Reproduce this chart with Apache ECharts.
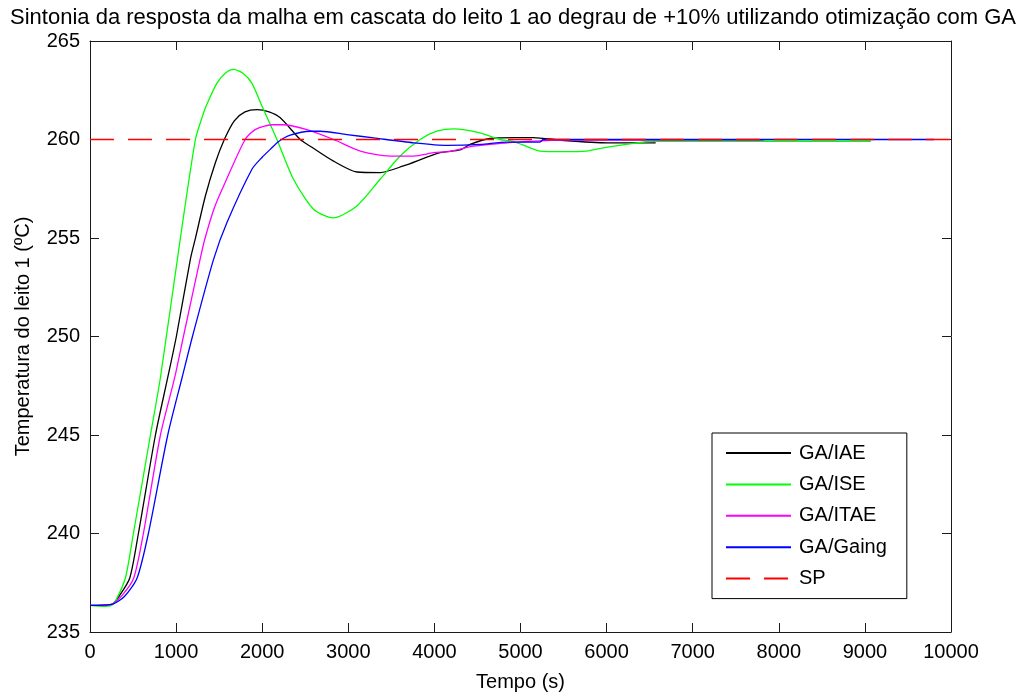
<!DOCTYPE html>
<html>
<head>
<meta charset="utf-8">
<script src="https://cdn.jsdelivr.net/npm/echarts@6/dist/echarts.min.js"></script>
<style>
  body { margin: 0; background: #fff; }
  #myChart { width: 1026px; height: 697px; }
</style>
</head>
<body>
<div id="myChart"></div>
<script>
// dados (tempo em s, temperatura em ºC)
var iaeT = [0, 250, 350, 462, 562, 760, 903, 1003, 1166, 1224, 1340, 1456, 1560, 1676, 1800, 1940, 2080, 2210, 2442, 2558, 2829, 3100, 3370, 3640, 4066, 4298, 4414, 4646, 4936, 5145, 5500, 6010, 6280, 6430, 6570];
var iaeY = [236.35, 236.4, 236.9, 237.74, 240, 245, 247.92, 250, 253.93, 254.98, 257.13, 258.82, 260, 260.95, 261.4, 261.52, 261.4, 261.1, 260, 259.66, 258.9, 258.35, 258.32, 258.66, 259.33, 259.47, 259.75, 260.05, 260.1, 260.1, 259.95, 259.83, 259.83, 259.83, 259.83];

var iseT = [0, 150, 250, 300, 411, 504, 702, 818, 1050, 1224, 1300, 1349, 1473, 1580, 1668, 1780, 1881, 1997, 2171, 2364, 2596, 2822, 3100, 3370, 3602, 3834, 4028, 4225, 4530, 4762, 4914, 5110, 5226, 5500, 5768, 5960, 6270, 6540, 7000, 8000, 9070];
var iseY = [236.35, 236.3, 236.35, 236.6, 237.74, 240, 245, 247.92, 255, 260, 261.1, 261.7, 262.85, 263.4, 263.56, 263.35, 262.85, 261.7, 260, 257.98, 256.46, 256.02, 256.63, 257.98, 259.16, 260, 260.42, 260.54, 260.34, 260, 259.91, 259.58, 259.41, 259.38, 259.41, 259.58, 259.78, 259.91, 259.91, 259.91, 259.91];

var itaeT = [0, 250, 380, 508, 620, 818, 984, 1085, 1279, 1337, 1450, 1570, 1802, 1919, 2116, 2244, 2519, 2829, 3140, 3488, 3760, 3992, 4182, 4454, 4646, 5000, 5500, 6500, 7826];
var itaeY = [236.35, 236.4, 236.9, 237.74, 240, 245, 247.92, 250, 253.93, 255, 256.6, 257.82, 260, 260.5, 260.75, 260.75, 260.5, 260, 259.41, 259.16, 259.16, 259.33, 259.4, 259.66, 259.75, 259.88, 259.97, 259.97, 259.97];

var gaingT = [0, 250, 400, 547, 678, 903, 1070, 1190, 1436, 1592, 1881, 2000, 2094, 2191, 2326, 2558, 2674, 2984, 3295, 3760, 4147, 4535, 4840, 5226, 5266, 6000, 8000, 9800];
var gaingY = [236.35, 236.4, 236.8, 237.74, 240, 245, 247.92, 250, 253.93, 255.8, 258.49, 259.1, 259.5, 259.9, 260.22, 260.42, 260.42, 260.25, 260.08, 259.83, 259.7, 259.75, 259.87, 259.87, 260, 260, 260, 260];

var spT = [0, 10000];
var spY = [260, 260];

var xTicks = [0, 1000, 2000, 3000, 4000, 5000, 6000, 7000, 8000, 9000, 10000];
var yTicks = [235, 240, 245, 250, 255, 260, 265];

function pares(t, y) {
  return t.map(function (v, i) { return [v, y[i]]; });
}

var fonte = "'Liberation Sans', Arial, sans-serif";
var corEixo = '#1a1a1a';

var myChart = echarts.init(document.getElementById('myChart'));

function eixo(pos, mostraRotulo) {
  return {
    position: pos,
    axisLine: { show: true, onZero: false, lineStyle: { color: corEixo, width: 1 } },
    axisTick: { show: true, inside: true, length: 9, lineStyle: { color: corEixo } },
    axisLabel: {
      show: mostraRotulo, color: '#000', fontSize: 20, fontFamily: fonte, margin: 10,
      formatter: function (v) { return String(v); }
    },
    splitLine: { show: false }
  };
}

var xBottom = Object.assign(eixo('bottom', true), {
  type: 'value', min: xTicks[0], max: xTicks[xTicks.length - 1], interval: 1000,
  name: 'Tempo (s)', nameLocation: 'middle', nameGap: 40,
  nameTextStyle: { color: '#000', fontSize: 20, fontFamily: fonte }
});
var xTop = Object.assign(eixo('top', false), {
  type: 'value', min: xTicks[0], max: xTicks[xTicks.length - 1], interval: 1000
});
var yLeft = Object.assign(eixo('left', true), {
  type: 'value', min: yTicks[0], max: yTicks[yTicks.length - 1], interval: 5,
  name: 'Temperatura do leito 1 (ºC)', nameLocation: 'middle', nameGap: 57,
  nameTextStyle: { color: '#000', fontSize: 20, fontFamily: fonte }
});
var yRight = Object.assign(eixo('right', false), {
  type: 'value', min: yTicks[0], max: yTicks[yTicks.length - 1], interval: 5
});

function serie(nome, t, y, cor, tipo) {
  return {
    name: nome,
    type: 'line',
    data: pares(t, y),
    symbol: 'none',
    smooth: 0.25,
    animation: false,
    lineStyle: { color: cor, width: 1.3, type: tipo || 'solid' },
    itemStyle: { color: cor }
  };
}

myChart.setOption({
  backgroundColor: '#fff',
  title: {
    text: 'Sintonia da resposta da malha em cascata do leito 1 ao degrau de +10% utilizando otimização com GA',
    left: 'center',
    top: 2,
    textStyle: { color: '#000', fontSize: 22, fontWeight: 'normal', fontFamily: fonte }
  },
  grid: { left: 90, right: 75, top: 41, bottom: 63, containLabel: false },
  legend: {
    orient: 'vertical',
    left: 712,
    top: 433,
    padding: [10, 20, 10, 13],
    itemWidth: 65,
    itemHeight: 20,
    itemGap: 11.4,
    borderColor: '#000',
    borderWidth: 1,
    backgroundColor: '#fff',
    itemStyle: { color: 'transparent', borderColor: 'transparent', borderWidth: 0, opacity: 0 },
    textStyle: { color: '#000', fontSize: 20, fontFamily: fonte, padding: [0, 0, 0, 3] },
    data: ['GA/IAE', 'GA/ISE', 'GA/ITAE', 'GA/Gaing', 'SP']
  },
  xAxis: [xBottom, xTop],
  yAxis: [yLeft, yRight],
  series: [
    serie('GA/IAE', iaeT, iaeY, '#000000'),
    serie('GA/ISE', iseT, iseY, '#00ff00'),
    serie('GA/ITAE', itaeT, itaeY, '#ff00ff'),
    serie('GA/Gaing', gaingT, gaingY, '#0000ff'),
    Object.assign(serie('SP', spT, spY, '#ff0000', [24, 14]), { smooth: false })
  ]
});
</script>
</body>
</html>
